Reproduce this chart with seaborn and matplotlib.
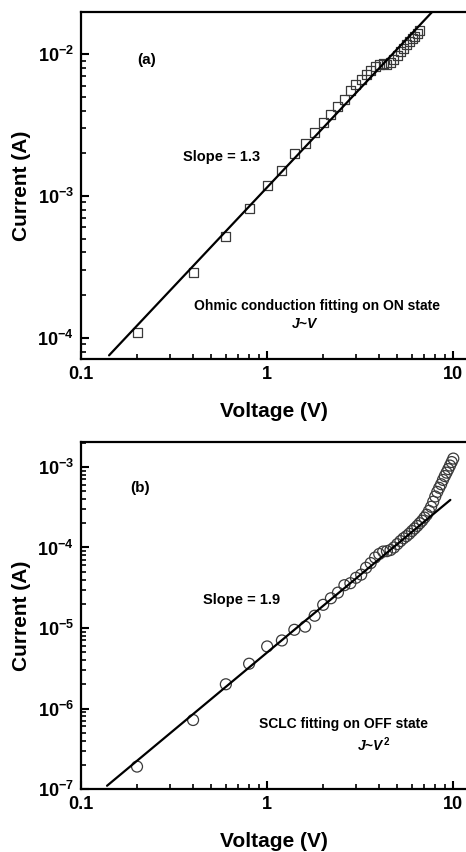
import numpy as np
import pandas as pd
import matplotlib
matplotlib.use("Agg")
import matplotlib.pyplot as plt
import seaborn as sns
from matplotlib.ticker import FuncFormatter, LogLocator, FixedLocator, NullFormatter

# ---------------- data ----------------
volt_a = [0.2, 0.4, 0.6, 0.8, 1.0, 1.2, 1.4, 1.6, 1.8, 2.0, 2.2, 2.4, 2.6, 2.8, 3.0, 3.2, 3.4,
          3.6, 3.8, 4.0, 4.2, 4.4, 4.6, 4.8, 5.0, 5.2, 5.4, 5.6, 5.8, 6.0, 6.2, 6.4, 6.6]
curr_a = [1.09e-4, 2.88e-4, 5.2e-4, 8.1e-4, 1.18e-3, 1.52e-3, 1.99e-3, 2.35e-3, 2.82e-3,
          3.3e-3, 3.75e-3, 4.3e-3, 4.8e-3, 5.5e-3, 6.1e-3, 6.6e-3, 7.2e-3, 7.7e-3, 8.2e-3,
          8.5e-3, 8.6e-3, 8.5e-3, 8.7e-3, 9.2e-3, 9.8e-3, 1.05e-2, 1.1e-2, 1.16e-2, 1.22e-2,
          1.28e-2, 1.34e-2, 1.4e-2, 1.46e-2]

volt_b = [0.2, 0.4, 0.6, 0.8, 1.0, 1.2, 1.4, 1.6, 1.8, 2.0, 2.2, 2.4, 2.6, 2.8, 3.0, 3.2, 3.4,
          3.6, 3.8, 4.0, 4.2, 4.4, 4.6, 4.8, 5.0, 5.2, 5.4, 5.6, 5.8, 6.0, 6.2, 6.4, 6.6, 6.8,
          7.0, 7.2, 7.4, 7.6, 7.8, 8.0, 8.2, 8.4, 8.6, 8.8, 9.0, 9.2, 9.4, 9.6, 9.8, 10.0]
curr_b = [1.9e-7, 7.2e-7, 2.0e-6, 3.6e-6, 5.9e-6, 7.0e-6, 9.5e-6, 1.04e-5, 1.42e-5, 1.94e-5,
          2.34e-5, 2.75e-5, 3.4e-5, 3.6e-5, 4.2e-5, 4.6e-5, 5.6e-5, 6.4e-5, 7.5e-5, 8.3e-5,
          8.9e-5, 9.0e-5, 9.3e-5, 1.0e-4, 1.1e-4, 1.2e-4, 1.3e-4, 1.38e-4, 1.48e-4, 1.6e-4,
          1.72e-4, 1.85e-4, 2.0e-4, 2.15e-4, 2.35e-4, 2.55e-4, 2.85e-4, 3.2e-4, 3.7e-4, 4.3e-4,
          4.9e-4, 5.5e-4, 6.1e-4, 6.9e-4, 7.7e-4, 8.5e-4, 9.4e-4, 1.04e-3, 1.15e-3, 1.27e-3]

# fitted lines: log-log slope and current at V = 1
fit_a_slope, fit_a_j1, fit_a_range = 1.395, 1.15e-3, (0.1415, 8.5)
fit_b_slope, fit_b_j1, fit_b_range = 1.925, 4.97e-6, (0.138, 9.64)

xtick_vals = [0.1, 1, 10]
xtick_labels = ["0.1", "1", "10"]

# ---------------- style ----------------
sns.set_style("ticks")
plt.rcParams["font.family"] = ["Liberation Sans", "DejaVu Sans"]
plt.rcParams["font.weight"] = "bold"
plt.rcParams["text.color"] = "black"
plt.rcParams["axes.labelcolor"] = "black"
plt.rcParams["xtick.color"] = "black"
plt.rcParams["ytick.color"] = "black"
plt.rcParams["mathtext.fontset"] = "custom"
plt.rcParams["mathtext.rm"] = "Liberation Sans:bold"
plt.rcParams["mathtext.bf"] = "Liberation Sans:bold"
plt.rcParams["mathtext.it"] = "Liberation Sans:italic:bold"

fig = plt.figure(figsize=(4.66, 8.52), dpi=100)
ax_a = fig.add_axes([0.1738, 0.5786, 0.8262, 0.4073])
ax_b = fig.add_axes([0.1738, 0.0739, 0.8262, 0.4073])


def fit_frame(slope, j1, rng):
    xs = np.geomspace(rng[0], rng[1], 50)
    return pd.DataFrame({"V": xs, "I": j1 * xs ** slope})


def style_axis(ax, ylim):
    ax.set_xscale("log")
    ax.set_yscale("log")
    ax.set_xlim(0.1, 11.7)
    ax.set_ylim(*ylim)
    for s in ["left", "bottom", "top"]:
        ax.spines[s].set_linewidth(1.6)
        ax.spines[s].set_color("black")
    ax.spines["right"].set_visible(False)
    ax.xaxis.set_major_locator(FixedLocator(xtick_vals))
    ax.xaxis.set_major_formatter(FuncFormatter(
        lambda v, p: xtick_labels[xtick_vals.index(v)] if v in xtick_vals else ""))
    ax.xaxis.set_minor_locator(LogLocator(base=10, subs=np.arange(2, 10)))
    ax.xaxis.set_minor_formatter(NullFormatter())
    ax.yaxis.set_major_locator(LogLocator(base=10, numticks=20))
    ax.yaxis.set_major_formatter(FuncFormatter(
        lambda v, p: r"$\mathbf{10^{%d}}$" % int(round(np.log10(v)))))
    ax.yaxis.set_minor_locator(LogLocator(base=10, subs=np.arange(2, 10), numticks=20))
    ax.yaxis.set_minor_formatter(NullFormatter())
    ax.tick_params(which="major", direction="in", length=6, width=1.5,
                   top=False, right=False, labelsize=13, pad=5, colors="black")
    ax.tick_params(which="minor", direction="in", length=3.5, width=1.2,
                   top=False, right=False, colors="black")
    for lab in ax.get_xticklabels():
        lab.set_fontweight("bold")
    ax.set_xlabel("Voltage (V)", fontsize=15, fontweight="bold", labelpad=14, color="black")
    ax.set_ylabel("Current (A)", fontsize=15, fontweight="bold", labelpad=5, color="black")


# panel (a)
df_a = pd.DataFrame({"V": volt_a, "I": curr_a})
sns.scatterplot(data=df_a, x="V", y="I", ax=ax_a, marker="s", s=42,
                facecolor="none", edgecolor="#3a3a3a", linewidth=0.9, zorder=3)
sns.lineplot(data=fit_frame(fit_a_slope, fit_a_j1, fit_a_range), x="V", y="I", ax=ax_a,
             color="black", linewidth=1.6, zorder=4)
style_axis(ax_a, (7.08e-5, 1.98e-2))
ax_a.text(0.171, 0.862, "(a)", transform=ax_a.transAxes, ha="center", va="center",
          fontsize=11, fontweight="bold")
ax_a.text(0.365, 0.583, "Slope = 1.3", transform=ax_a.transAxes, ha="center", va="center",
          fontsize=10.5, fontweight="bold")
ax_a.text(0.612, 0.153, "Ohmic conduction fitting on ON state", transform=ax_a.transAxes,
          ha="center", va="center", fontsize=10, fontweight="bold")
ax_a.text(0.582, 0.101, r"$J$~$V$", transform=ax_a.transAxes, ha="center", va="center",
          fontsize=10, fontweight="bold")

# panel (b)
df_b = pd.DataFrame({"V": volt_b, "I": curr_b})
sns.scatterplot(data=df_b, x="V", y="I", ax=ax_b, marker="o", s=62,
                facecolor="none", edgecolor="#3a3a3a", linewidth=0.9, zorder=3)
sns.lineplot(data=fit_frame(fit_b_slope, fit_b_j1, fit_b_range), x="V", y="I", ax=ax_b,
             color="black", linewidth=1.6, zorder=4)
style_axis(ax_b, (1e-7, 2.04e-3))
ax_b.text(0.153, 0.867, "(b)", transform=ax_b.transAxes, ha="center", va="center",
          fontsize=11, fontweight="bold")
ax_b.text(0.417, 0.545, "Slope = 1.9", transform=ax_b.transAxes, ha="center", va="center",
          fontsize=10.5, fontweight="bold")
ax_b.text(0.681, 0.187, "SCLC fitting on OFF state", transform=ax_b.transAxes,
          ha="center", va="center", fontsize=10, fontweight="bold")
ax_b.text(0.759, 0.127, r"$J$~$V^2$", transform=ax_b.transAxes, ha="center", va="center",
          fontsize=10, fontweight="bold")

fig.savefig("out.png", dpi=100)
